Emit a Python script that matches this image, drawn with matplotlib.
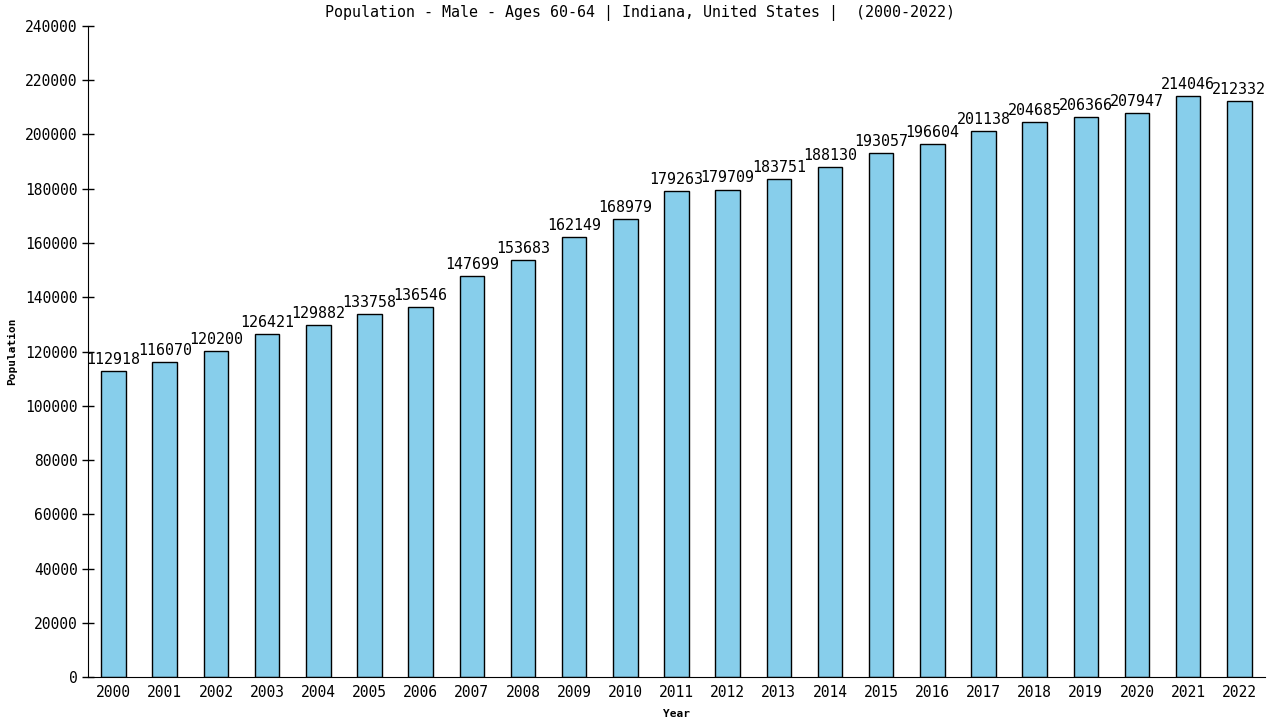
import matplotlib
matplotlib.use("Agg")
import matplotlib.pyplot as plt

years = [str(y) for y in range(2000, 2023)]
population = [112918, 116070, 120200, 126421, 129882, 133758, 136546, 147699,
              153683, 162149, 168979, 179263, 179709, 183751, 188130, 193057,
              196604, 201138, 204685, 206366, 207947, 214046, 212332]
yticks = list(range(0, 240001, 20000))

plt.rcParams['font.family'] = ['DejaVu Sans Mono']

fig = plt.figure(figsize=(12.8, 7.2), dpi=100)
ax = fig.add_axes([0.06875, 0.0597, 0.9195, 0.9042])

x = list(range(len(years)))
ax.bar(x, population, width=0.48, color='skyblue', edgecolor='black', linewidth=1)
for xi, v in zip(x, population):
    ax.text(xi, v + 1500, str(v), ha='center', va='bottom', fontsize=10.8)

ax.set_xlim(-0.5, 22.5)
ax.set_ylim(0, 240000)
ax.set_xticks(x)
ax.set_xticklabels(years, fontsize=10.5)
ax.set_yticks(yticks)
ax.set_yticklabels([str(t) for t in yticks], fontsize=10.5)
ax.tick_params(axis='y', direction='inout', length=8, width=1)
ax.tick_params(axis='x', length=0, pad=6)
ax.spines['top'].set_visible(False)
ax.spines['right'].set_visible(False)
ax.set_xlabel('Year', fontsize=8, fontweight='bold', labelpad=6)
ax.set_ylabel('Population', fontsize=8, fontweight='bold', labelpad=6)
fig.text(0.5, 0.982, 'Population - Male - Ages 60-64 | Indiana, United States |  (2000-2022)',
         ha='center', va='center', fontsize=10.8)

fig.savefig('out.png', dpi=100)
